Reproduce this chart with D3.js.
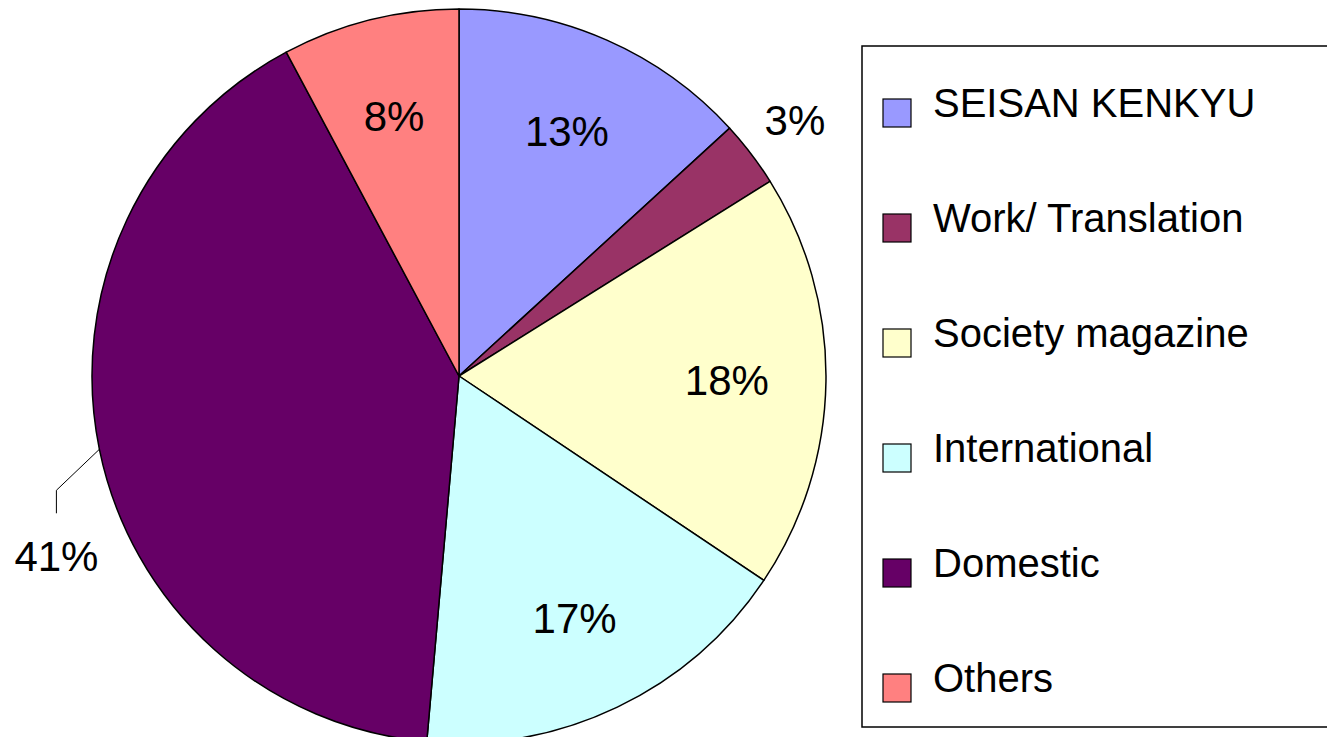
<!DOCTYPE html>
<html lang="en">
<head>
    <meta charset="UTF-8">
    <script src="https://cdnjs.cloudflare.com/ajax/libs/d3/7.8.5/d3.min.js"></script>
    <style>
        body { margin: 0; background: #fff; }
        svg { display: block; font-family: "Liberation Sans", Arial, sans-serif; }
    </style>
</head>
<body>
    <svg id="chart" width="1327" height="737"></svg>
    <script>
        const categories = ["SEISAN KENKYU", "Work/ Translation", "Society magazine", "International", "Domestic", "Others"];
        const shares = [13.2, 2.9, 18.3, 17.0, 40.8, 7.8];
        const labels = ["13%", "3%", "18%", "17%", "41%", "8%"];
        const colors = ["#9999ff", "#993366", "#ffffcc", "#ccffff", "#660066", "#ff8080"];

        const svg = d3.select("#chart");
        const cx = 459, cy = 376, R = 367;

        const data = categories.map((c, i) => ({ name: c, value: shares[i], label: labels[i], color: colors[i] }));

        const pie = d3.pie().sort(null).value(d => d.value);
        const arc = d3.arc().innerRadius(0).outerRadius(R);
        const arcs = pie(data);

        const g = svg.append("g").attr("transform", `translate(${cx},${cy})`);

        g.selectAll("path.slice")
            .data(arcs)
            .enter()
            .append("path")
            .attr("class", "slice")
            .attr("d", arc)
            .attr("fill", d => d.data.color)
            .attr("stroke", "#000")
            .attr("stroke-width", 1.5)
            .attr("stroke-linejoin", "round");

        // label placement: inside for big slices, outside for small / leader for Domestic
        const inside = d3.arc().innerRadius(R * 0.73).outerRadius(R * 0.73);
        const outside = d3.arc().innerRadius(R * 1.15).outerRadius(R * 1.15);
        const edge = d3.arc().innerRadius(R).outerRadius(R);

        arcs.forEach(d => {
            let x, y;
            if (d.data.name === "Domestic") {
                const [ex, ey] = edge.centroid(d);
                const bx = ex - 43, by = ey + 41;
                g.append("path")
                    .attr("d", d3.line()([[ex, ey], [bx, by], [bx, by + 23]]))
                    .attr("fill", "none")
                    .attr("stroke", "#000")
                    .attr("stroke-width", 1);
                x = bx; y = by + 66;
            } else if (d.value < 5) {
                [x, y] = outside.centroid(d);
            } else {
                [x, y] = inside.centroid(d);
            }
            g.append("text")
                .attr("x", x)
                .attr("y", y + 15)
                .attr("text-anchor", "middle")
                .attr("font-size", 42)
                .attr("fill", "#000")
                .text(d.data.label);
        });

        // legend
        svg.append("rect")
            .attr("x", 862)
            .attr("y", 46)
            .attr("width", 500)
            .attr("height", 681)
            .attr("fill", "#fff")
            .attr("stroke", "#000")
            .attr("stroke-width", 1.5);

        const rowY = d3.scalePoint().domain(categories).range([113, 688]);

        const items = svg.selectAll("g.legend")
            .data(data)
            .enter()
            .append("g")
            .attr("class", "legend")
            .attr("transform", d => `translate(883,${rowY(d.name)})`);

        items.append("rect")
            .attr("x", 0)
            .attr("y", -14)
            .attr("width", 28)
            .attr("height", 28)
            .attr("fill", d => d.color)
            .attr("stroke", "#000")
            .attr("stroke-width", 1.2);

        items.append("text")
            .attr("x", 50)
            .attr("y", 4)
            .attr("font-size", 40)
            .attr("fill", "#000")
            .text(d => d.name);
    </script>
</body>
</html>
